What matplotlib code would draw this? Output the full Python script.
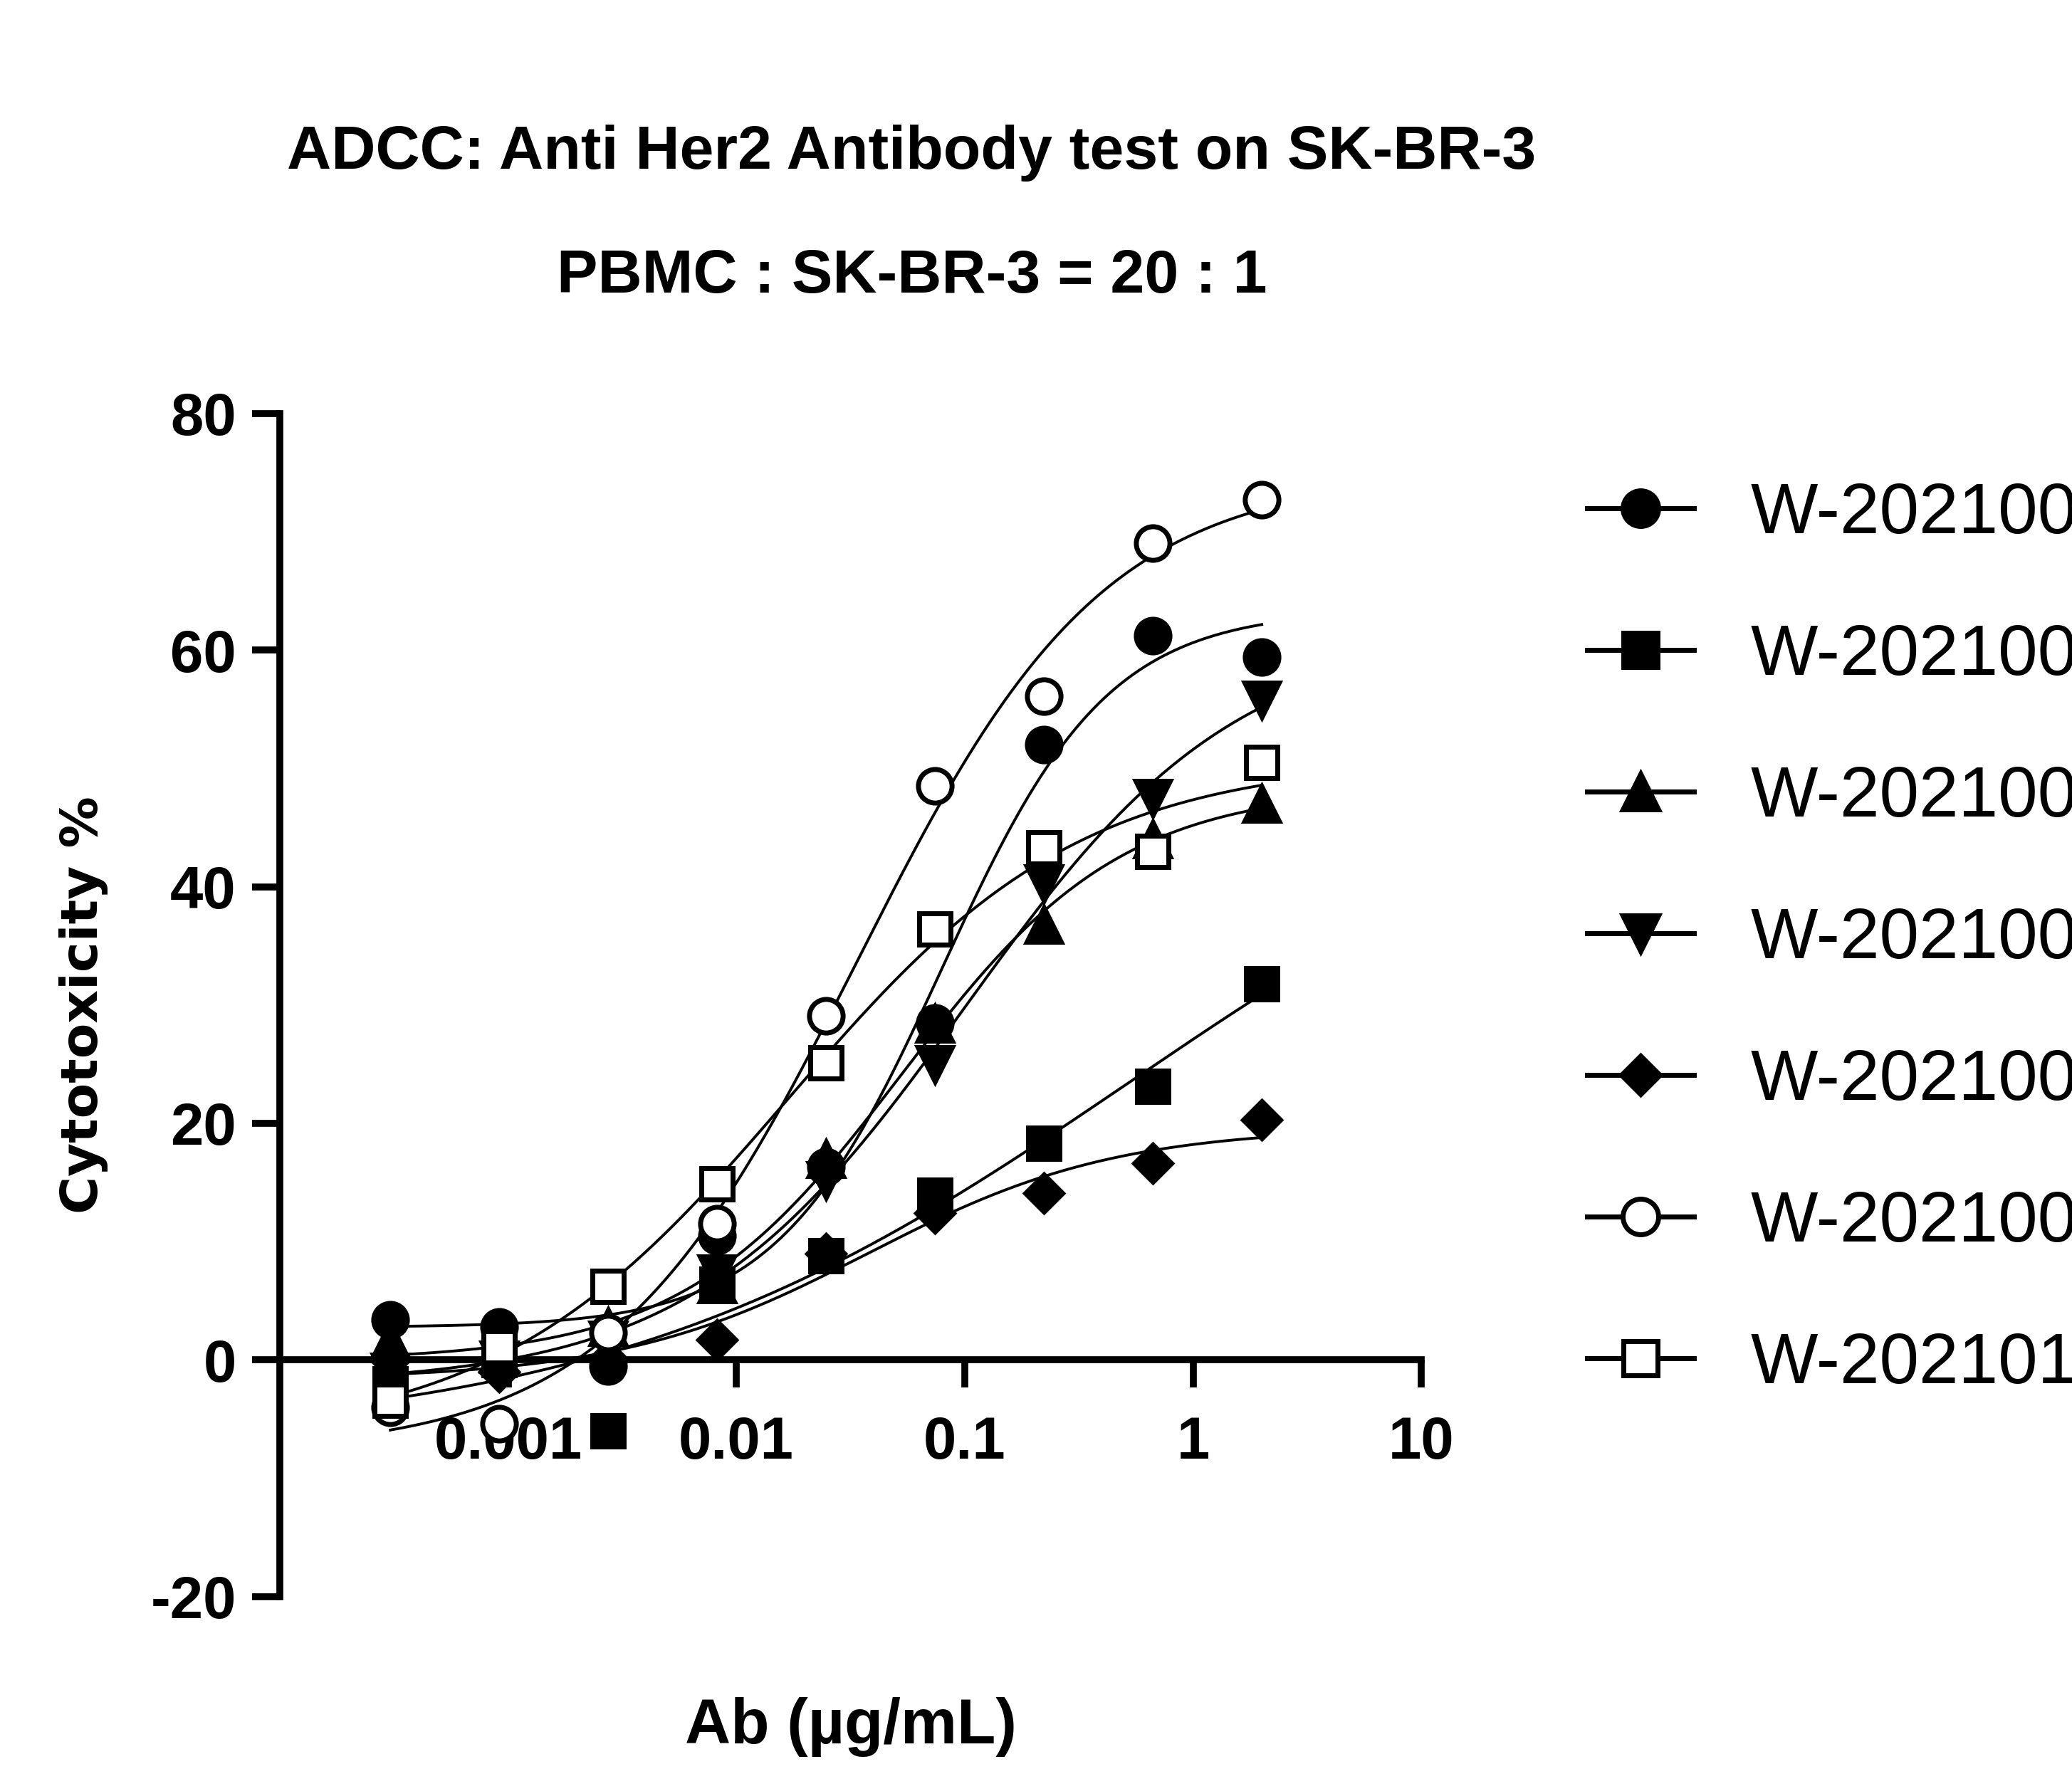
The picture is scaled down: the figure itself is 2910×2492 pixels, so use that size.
import numpy as np
import matplotlib
matplotlib.use("Agg")
import matplotlib.pyplot as plt
from matplotlib.ticker import FixedLocator, NullLocator

plt.rcParams["axes.unicode_minus"] = False

conc = [0.000305, 0.000914, 0.00274, 0.00823, 0.0247, 0.0741, 0.222, 0.667, 2.0]

w69 = [3.4, 2.8, -0.5, 10.5, 16.3, 28.5, 52.0, 61.2, 59.4]
w74 = [-2.0, 0.0, -6.0, 6.4, 8.8, 13.9, 18.3, 23.1, 31.8]
w86 = [1.7, 0.5, 2.8, 6.4, 17.0, 28.4, 36.8, 44.0, 47.0]
w90 = [-1.0, 0.0, 1.7, 7.3, 15.2, 25.0, 40.3, 47.5, 55.8]
w96 = [0.0, -1.0, 0.0, 1.7, 9.0, 12.4, 14.1, 16.6, 20.3]
w98 = [-4.0, -5.4, 2.3, 11.5, 29.1, 48.5, 56.1, 69.0, 72.7]
w102 = [-3.4, 1.1, 6.2, 14.9, 25.1, 36.4, 43.3, 43.0, 50.5]

names = ["W-20210069", "W-20210074", "W-20210086", "W-20210090",
         "W-20210096", "W-20210098", "W-20210102"]
series = [w69, w74, w86, w90, w96, w98, w102]
markers = ["o", "s", "^", "v", "D", "o", "s"]
filled = [True, True, True, True, True, False, False]
msizes = [17, 16, 17, 17, 13, 17, 16]

FONT = "Liberation Sans"


def fit4pl(x, y):
    # grid search on logEC50 / hill, linear solve for bottom / top
    lx = np.log10(x)
    y = np.asarray(y)
    best = None
    for c in np.linspace(-3.5, 1.5, 201):
        for h in np.linspace(0.3, 2.5, 89):
            s = 1.0 / (1.0 + 10 ** ((c - lx) * h))
            A = np.column_stack([1 - s, s])
            coef, *_ = np.linalg.lstsq(A, y, rcond=None)
            r = np.sum((A @ coef - y) ** 2)
            if best is None or r < best[0]:
                best = (r, c, h, coef)
    _, c, h, (b, t) = best
    return lambda xx: b + (t - b) / (1.0 + 10 ** ((c - np.log10(xx)) * h))


fig = plt.figure(figsize=(14.55, 12.46), dpi=200)
ax = fig.add_axes([0.135, 0.100, 0.551, 0.667])

xs = np.logspace(np.log10(conc[0]), np.log10(conc[-1]), 300)
handles = []
for name, y, m, f, ms in zip(names, series, markers, filled, msizes):
    fn = fit4pl(np.array(conc), y)
    ax.plot(xs, fn(xs), color="black", lw=1.4, zorder=2)
    ax.plot(conc, y, linestyle="none", marker=m, ms=ms,
            mfc="black" if f else "white", mec="black", mew=2.5, zorder=3)
    h, = ax.plot([], [], color="black", lw=2.5, marker=m, ms=ms + 1,
                 mfc="black" if f else "white", mec="black", mew=2.5)
    handles.append(h)

ax.set_xscale("log")
ax.set_xlim(0.0001, 10)
ax.set_ylim(-20, 80)
ax.xaxis.set_major_locator(FixedLocator([0.001, 0.01, 0.1, 1, 10]))
ax.xaxis.set_minor_locator(NullLocator())
ax.set_xticklabels(["0.001", "0.01", "0.1", "1", "10"])
ax.set_yticks([-20, 0, 20, 40, 60, 80])

for s in ["top", "right"]:
    ax.spines[s].set_visible(False)
ax.spines["bottom"].set_position(("data", 0))
for s in ["left", "bottom"]:
    ax.spines[s].set_linewidth(3.5)
ax.tick_params(width=3.5, length=14, labelsize=30, pad=8)
for lab in ax.get_xticklabels() + ax.get_yticklabels():
    lab.set_fontfamily(FONT)
    lab.set_fontweight("bold")
ax.tick_params(axis="x", pad=14)

ax.set_xlabel("Ab (\u00b5g/mL)", fontsize=32, fontweight="bold", fontfamily=FONT)
ax.xaxis.set_label_coords(0.5, -0.085)
ax.set_ylabel("Cytotoxicity %", fontsize=26, fontweight="bold",
              fontfamily="DejaVu Sans")
ax.yaxis.set_label_coords(-0.15, 0.5)

fig.text(0.44, 0.905, "ADCC: Anti Her2 Antibody test on SK-BR-3",
         ha="center", fontsize=31, fontweight="bold", fontfamily=FONT)
fig.text(0.44, 0.835, "PBMC : SK-BR-3 = 20 : 1",
         ha="center", fontsize=31, fontweight="bold", fontfamily=FONT)

fig.legend(handles, names, loc="upper left", bbox_to_anchor=(0.735, 0.765),
           frameon=False, handlelength=1.5, handletextpad=0.8,
           labelspacing=1.05, prop={"family": FONT, "size": 36})

fig.savefig("out.png", dpi=200)
